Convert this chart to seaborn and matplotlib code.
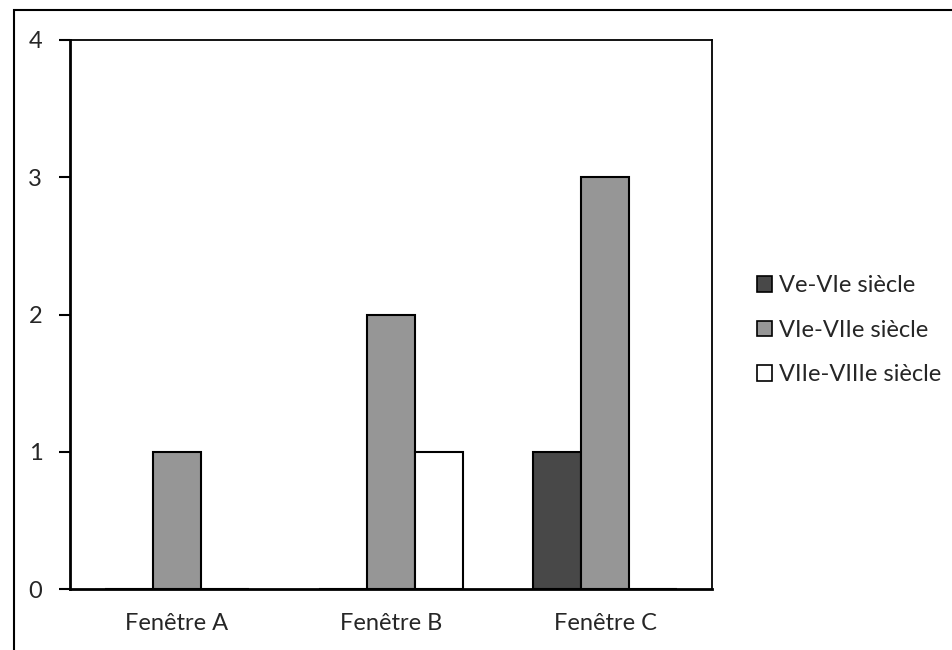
import matplotlib
matplotlib.use("Agg")
import matplotlib.pyplot as plt
import matplotlib.patches as mpatches
import seaborn as sns
import pandas as pd

# Data
fenetres = ["Fenêtre A", "Fenêtre B", "Fenêtre C"]
periodes = ["Ve-VIe siècle", "VIe-VIIe siècle", "VIIe-VIIIe siècle"]
ve_vie = [0, 0, 1]
vie_viie = [1, 2, 3]
viie_viiie = [0, 1, 0]
couleurs = ["#484848", "#969696", "#ffffff"]

df = pd.DataFrame({
    "fenetre": fenetres * 3,
    "periode": [p for p in periodes for _ in fenetres],
    "nombre": ve_vie + vie_viie + viie_viiie,
})

sns.set_style("white")
plt.rcParams["font.family"] = ["Lato", "DejaVu Sans"]

fig = plt.figure(figsize=(9.53, 6.5), dpi=100)
ax = fig.add_axes([0.0735, 0.0938, 0.6737, 0.8447])

sns.barplot(
    data=df, x="fenetre", y="nombre", hue="periode",
    order=fenetres, hue_order=periodes, palette=couleurs,
    width=0.673, gap=0, edgecolor="black", linewidth=1.5,
    errorbar=None, legend=False, ax=ax,
)

ax.set_xlim(-0.5, 2.5)
ax.set_ylim(0, 4)
ax.set_yticks([0, 1, 2, 3, 4])
ax.set_xlabel("")
ax.set_ylabel("")

# category labels centred, tick marks on the boundaries
ax.tick_params(axis="x", which="major", length=0, pad=17, labelsize=17)
ax.set_xticks([-0.5, 0.5, 1.5, 2.5], minor=True)
ax.tick_params(axis="x", which="minor", direction="out", length=8, width=1.5, color="black")
ax.tick_params(axis="y", direction="out", length=8, width=1.5, color="black", pad=12, labelsize=17)
ax.tick_params(left=True, bottom=True)

for side in ["left", "bottom"]:
    ax.spines[side].set_linewidth(2)
    ax.spines[side].set_color("black")
for side in ["top", "right"]:
    ax.spines[side].set_linewidth(1.3)
    ax.spines[side].set_color("black")

handles = [mpatches.Patch(facecolor=c, edgecolor="black", linewidth=1.2) for c in couleurs]
fig.legend(
    handles, periodes, loc="center left", bbox_to_anchor=(0.772, 0.492),
    frameon=False, fontsize=17, handlelength=0.65, handleheight=0.65,
    handletextpad=0.3, labelspacing=1.0,
)

# outer border (right and bottom fall outside the image)
fig.patches.append(mpatches.Rectangle(
    (0.0147, -0.1), 1.2, 1.0846, transform=fig.transFigure,
    fill=False, edgecolor="black", linewidth=1.5,
))

fig.savefig("out.png", dpi=100, facecolor="white")
